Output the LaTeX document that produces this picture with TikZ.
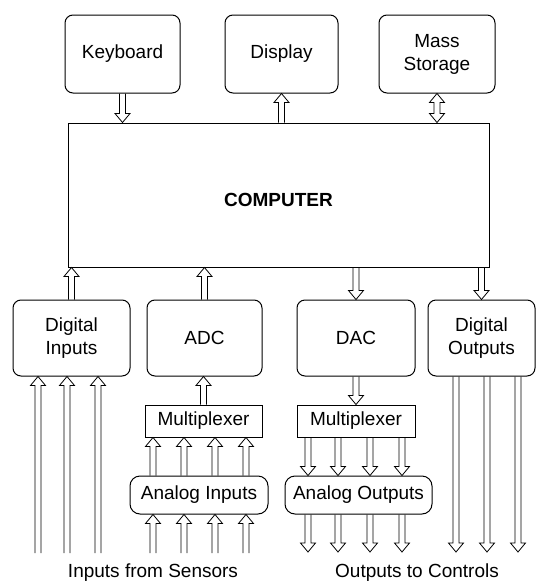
\documentclass[tikz,border=0pt]{standalone}
\usepackage{fontspec}
\setmainfont{Liberation Sans}
\usetikzlibrary{calc}
\begin{document}
\begin{tikzpicture}[x=1pt,y=-1pt,
  font=\fontsize{19}{23}\selectfont,
  box/.style={draw, line width=1pt, rounded corners=8pt, align=center, inner sep=2pt},
  muxbox/.style={draw, line width=1pt, inner sep=2pt},
  arrup/.style={line width=0.8pt, to path={let \p1=(\tikztostart), \p2=(\tikztotarget) in
    (\x1-3pt,\y1) -- (\x1-3pt,\y2-9pt) -- (\x1-7.5pt,\y2-9pt) -- (\x1,\y2)
    -- (\x1+7.5pt,\y2-9pt) -- (\x1+3pt,\y2-9pt) -- (\x1+3pt,\y1)}},
  arrdown/.style={line width=0.8pt, to path={let \p1=(\tikztostart), \p2=(\tikztotarget) in
    (\x1-3pt,\y1) -- (\x1-3pt,\y2+9pt) -- (\x1-7.5pt,\y2+9pt) -- (\x1,\y2)
    -- (\x1+7.5pt,\y2+9pt) -- (\x1+3pt,\y2+9pt) -- (\x1+3pt,\y1)}},
  arrboth/.style={line width=0.8pt, to path={let \p1=(\tikztostart), \p2=(\tikztotarget) in
    (\x1,\y1) -- (\x1+7.5pt,\y1-9pt) -- (\x1+3pt,\y1-9pt) -- (\x1+3pt,\y2+9pt)
    -- (\x1+7.5pt,\y2+9pt) -- (\x1,\y2) -- (\x1-7.5pt,\y2+9pt) -- (\x1-3pt,\y2+9pt)
    -- (\x1-3pt,\y1-9pt) -- (\x1-7.5pt,\y1-9pt) -- cycle}}]
\useasboundingbox (0,0) rectangle (539,584);

% peripherals
\node [box, minimum width=115, minimum height=78] (kbd) at (122.5,54) {Keyboard};
\node [box, minimum width=113, minimum height=78] (disp) at (281.5,54) {Display};
\node [box, minimum width=116, minimum height=78] (mass) at (437,54) {Mass\\Storage};

% computer
\node [draw, line width=1pt, minimum width=421, minimum height=144] (comp) at (278.5,195) {};
\node [font=\fontsize{19}{23}\selectfont\bfseries] (complabel) at (278.5,200) {COMPUTER};

% interface boxes
\node [box, minimum width=117, minimum height=76] (digin) at (71.5,338) {Digital\\Inputs};
\node [box, minimum width=115, minimum height=76] (adc) at (204.5,338) {ADC};
\node [box, minimum width=118, minimum height=76] (dac) at (356,338) {DAC};
\node [box, minimum width=107, minimum height=76] (digout) at (481.5,338) {Digital\\Outputs};

\node [muxbox, minimum width=117, minimum height=32] (muxin) at (203.5,421) {Multiplexer};
\node [muxbox, minimum width=118, minimum height=32] (muxout) at (356,421) {Multiplexer};

\node [box, rounded corners=10pt, minimum width=138, minimum height=38] (anin) at (199,495) {Analog Inputs};
\node [box, rounded corners=10pt, minimum width=147, minimum height=38] (anout) at (358.5,495) {Analog Outputs};

\node (sensors) at (153,573) {Inputs from Sensors};
\node (controls) at (417,573) {Outputs to Controls};
\coordinate (sens) at (0,553);
\coordinate (ctrl) at (0,552);

% arrows to and from the computer
\draw [arrdown] (kbd.south) to (kbd.south |- comp.north);
\draw [arrup] (disp.south |- comp.north) to (disp.south);
\draw [arrboth] (mass.south) to (mass.south |- comp.north);
\draw [arrup] (digin.north) to (digin.north |- comp.south);
\draw [arrup] (adc.north) to (adc.north |- comp.south);
\draw [arrdown] (dac.north |- comp.south) to (dac.north);
\draw [arrdown] (digout.north |- comp.south) to (digout.north);

% inputs side
\draw [arrup] (muxin.north) to (muxin.north |- adc.south);
\foreach \px in {38,67,98}
  \draw [arrup] (\px,0 |- sens) to (\px,0 |- digin.south);
\foreach \px in {153,184,215,246} {
  \draw [arrup] (\px,0 |- anin.north) to (\px,0 |- muxin.south);
  \draw [arrup] (\px,0 |- sens) to (\px,0 |- anin.south);
}

% outputs side
\draw [arrdown] (dac.south) to (muxout.north);
\foreach \px in {456,487,518}
  \draw [arrdown] (\px,0 |- digout.south) to (\px,0 |- ctrl);
\foreach \px in {308,338,370,402} {
  \draw [arrdown] (\px,0 |- muxout.south) to (\px,0 |- anout.north);
  \draw [arrdown] (\px,0 |- anout.south) to (\px,0 |- ctrl);
}
\end{tikzpicture}
\end{document}
